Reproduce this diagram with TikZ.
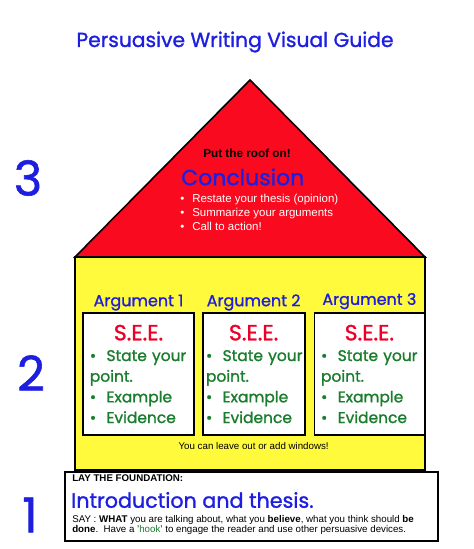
\documentclass[tikz,border=0pt]{standalone}
\usepackage{fontspec}
\setmainfont{Liberation Sans}
\newfontfamily\comicfont[FakeBold=1.2]{Poppins}
\usetikzlibrary{positioning}
\definecolor{penblue}{RGB}{30,30,225}
\definecolor{roofred}{RGB}{250,10,30}
\definecolor{wallyellow}{RGB}{255,250,60}
\definecolor{seered}{RGB}{235,0,40}
\definecolor{pointgreen}{RGB}{25,125,45}
\newcommand{\seewindow}{\makebox[\hsize]{\color{seered}\fontsize{16.5}{18}\selectfont S.E.E.}\\[0pt]
  \mbox{\textbullet\ \ State your}\\point.\\\textbullet\ \ Example\\\textbullet\ \ Evidence}

\begin{document}
\begin{tikzpicture}[
    x=0.75pt, y=-0.75pt,
    outline/.style={draw=black, line width=1.2pt},
    window/.style={rectangle, draw=black, line width=1.3pt, fill=white, inner sep=5pt,
                   minimum height=91.5pt, align=left, text=pointgreen,
                   font=\comicfont\fontsize{11.6}{15.5}\selectfont},
    arglabel/.style={text=penblue, inner sep=1pt, font=\comicfont\fontsize{12}{13}\selectfont},
    levelnum/.style={text=penblue, font=\comicfont\fontsize{36}{37}\selectfont},
    smalltext/.style={inner sep=0pt, font=\fontsize{7.3}{8}\selectfont}
  ]
    \useasboundingbox (0,0) rectangle (474,549);

    % title and level numbers
    \node[text=penblue, font=\comicfont\fontsize{15.2}{17}\selectfont] (title) at (235,42) {Persuasive Writing Visual Guide};
    \node[levelnum] (lvl3) at (28,178) {3};
    \node[levelnum] (lvl2) at (31,373) {2};
    \node[levelnum] (lvl1) at (30,515) {1};

    % house
    \filldraw[outline, fill=wallyellow] (75,257) rectangle (425,470);
    \filldraw[outline, fill=roofred, line join=miter] (75,257) -- (250,80) -- (425,257) -- cycle;

    % roof
    \node[font=\bfseries\fontsize{8.8}{10}\selectfont] (roof) at (247,153) {Put the roof on!};
    \node[anchor=west, inner sep=0pt, text=penblue, font=\comicfont\fontsize{16.5}{19}\selectfont] (concl) at (181,177) {Conclusion};
    \node[anchor=north west, inner sep=0pt, align=left, text=white, font=\fontsize{8.6}{10.3}\selectfont] (points) at (180,194)
      {\textbullet\hspace{6pt}Restate your thesis (opinion)\\\textbullet\hspace{6pt}Summarize your arguments\\\textbullet\hspace{6pt}Call to action!};

    % windows
    \node[window, text width=73pt] (win1) at (138.5,374) {\seewindow};
    \node[window, inner sep=2.5pt, text width=71.5pt, right=5.3pt of win1] (win2) {\seewindow};
    \node[window, text width=72.5pt, right=6pt of win2] (win3) {\seewindow};
    \node[arglabel, above=0pt of win1] (arg1) {Argument 1};
    \node[arglabel, above=0pt of win2] (arg2) {Argument 2};
    \node[arglabel, above=1pt of win3] (arg3) {Argument 3};
    \node[smalltext, below=5pt of win2] (windows) {You can leave out or add windows!};

    % foundation
    \node[outline, fill=white, minimum width=279.75pt, minimum height=51.75pt] (found) at (251.5,506.5) {};
    \node[smalltext, anchor=west, font=\bfseries\fontsize{7.3}{8}\selectfont] (lay) at (72,478) {LAY THE FOUNDATION:};
    \node[anchor=west, inner sep=0pt, text=penblue, font=\comicfont\fontsize{15.5}{17}\selectfont] (intro) at (71,500) {Introduction and thesis.};
    \node[smalltext, anchor=north west, align=left, font=\fontsize{7.3}{7.6}\selectfont] (say) at (72,515)
      {SAY : \textbf{WHAT} you are talking about, what you \textbf{believe}, what you think should \textbf{be}\\
       \textbf{done}.\ \ Have a '\textcolor{pointgreen}{hook}' to engage the reader and use other persuasive devices.};
  \end{tikzpicture}
\end{document}
